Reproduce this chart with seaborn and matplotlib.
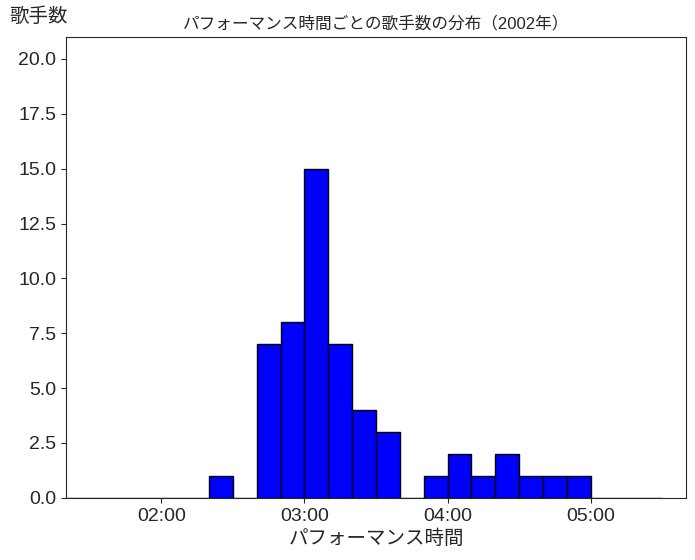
import numpy as np
import seaborn as sns
import matplotlib.pyplot as plt
from matplotlib.ticker import FuncFormatter

# bins of 10 seconds, from 1:20 to 5:30
bin_edges = list(range(80, 331, 10))
counts = [0, 0, 0, 0, 0, 0, 1, 0, 7, 8, 15, 7, 4, 3, 0, 1, 2, 1, 2, 1, 1, 1, 0, 0, 0]
tick_secs = [120, 180, 240, 300]

sns.set_style("ticks")
plt.rcParams['font.family'] = ['Liberation Sans', 'Noto Sans CJK JP']

centers = [e + 5 for e in bin_edges[:-1]]

fig, ax = plt.subplots(figsize=(6.95, 5.6), dpi=100)
sns.histplot(x=centers, weights=counts, bins=bin_edges, color='blue',
             edgecolor='black', alpha=1, linewidth=1, ax=ax)

ax.set_xlim(80, 340)
ax.set_ylim(0, 21)
ax.set_xticks(tick_secs)
ax.xaxis.set_major_formatter(FuncFormatter(lambda s, p: '%02d:%02d' % (s // 60, s % 60)))
ax.tick_params(labelsize=14)

ax.set_title('パフォーマンス時間ごとの歌手数の分布（2002年）', fontsize=12)
ax.set_xlabel('パフォーマンス時間', fontsize=14)
ax.set_ylabel('歌手数', fontsize=14, rotation=0)
ax.yaxis.set_label_coords(-0.044, 1.024)
ax.yaxis.label.set_horizontalalignment('center')

plt.subplots_adjust(left=0.095, right=0.987, top=0.934, bottom=0.111)
plt.savefig('out.png', dpi=100)
